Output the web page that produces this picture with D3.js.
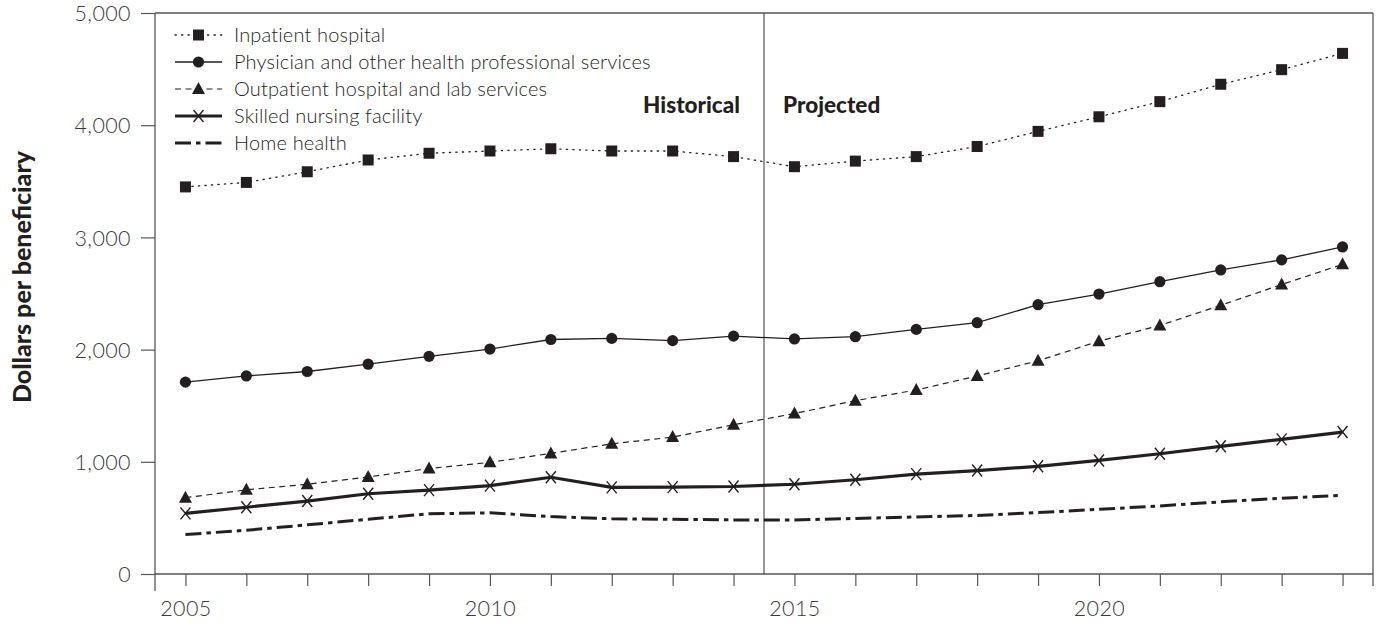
<!DOCTYPE html>
<html>
<head>
<meta charset="utf-8">
<script src="https://cdn.jsdelivr.net/npm/d3@7"></script>
<style>
  body { margin: 0; background: #fff; }
  svg { display: block; }
  text { font-family: "Lato", "Open Sans", sans-serif; fill: #231f20; }
  .tick text { font-weight: 300; font-size: 21.5px; fill: #3a3a3a; letter-spacing: 0.4px; }
  .legend text { font-weight: 300; font-size: 20px; letter-spacing: 0.15px; }
  .period { font-weight: 900; font-size: 22.5px; }
  .ytitle { font-weight: 900; font-size: 25px; }
</style>
</head>
<body>
<svg id="chart" width="1382" height="626"></svg>
<script>
// years shown on the x axis
var years = [2005, 2006, 2007, 2008, 2009, 2010, 2011, 2012, 2013, 2014,
             2015, 2016, 2017, 2018, 2019, 2020, 2021, 2022, 2023, 2024];

// dollars per beneficiary
var inpatient = [3450, 3490, 3585, 3690, 3750, 3770, 3790, 3770, 3770, 3720,
                 3630, 3680, 3720, 3810, 3945, 4075, 4210, 4365, 4495, 4640];
var physician = [1710, 1765, 1805, 1870, 1940, 2005, 2090, 2100, 2080, 2120,
                 2095, 2115, 2180, 2240, 2400, 2495, 2605, 2710, 2800, 2915];
var outpatient = [680, 750, 800, 865, 940, 995, 1075, 1160, 1220, 1330,
                  1430, 1545, 1640, 1765, 1900, 2075, 2215, 2395, 2580, 2760];
var snf = [540, 595, 650, 715, 748, 788, 862, 772, 774, 780,
           800, 840, 890, 922, 960, 1012, 1072, 1138, 1200, 1265];
var homeHealth = [352, 390, 438, 488, 537, 545, 512, 492, 488, 482,
                  482, 495, 508, 522, 548, 576, 607, 643, 676, 702];

var yTicks = [0, 1000, 2000, 3000, 4000, 5000];
var xLabelYears = [2005, 2010, 2015, 2020];
var splitYear = 2014.5;

var seriesNames = ["Inpatient hospital",
                   "Physician and other health professional services",
                   "Outpatient hospital and lab services",
                   "Skilled nursing facility",
                   "Home health"];

var ink = "#231f20";

var series = [
    { name: seriesNames[0], values: inpatient, width: 1.3, dash: "1.3,5.2", cap: "round", marker: "square" },
    { name: seriesNames[1], values: physician, width: 1.3, dash: null, cap: "butt", marker: "circle" },
    { name: seriesNames[2], values: outpatient, width: 1.2, dash: "6,4.5", cap: "butt", marker: "triangle" },
    { name: seriesNames[3], values: snf, width: 3.2, dash: null, cap: "butt", marker: "cross" },
    { name: seriesNames[4], values: homeHealth, width: 3, dash: "16,5,4.5,5", cap: "butt", marker: null }
];

var svg = d3.select("#chart");

var MARGINS = { left: 155, right: 1373, top: 13, bottom: 574 };

var xRange = d3.scaleLinear().domain([2004.5, 2024.5]).range([MARGINS.left, MARGINS.right]);
var yRange = d3.scaleLinear().domain([0, 5000]).range([MARGINS.bottom, MARGINS.top]);

/**
 * Axes
 */
var yAxis = d3.axisLeft(yRange)
    .tickValues(yTicks)
    .tickFormat(d3.format(","))
    .tickSize(14)
    .tickPadding(10);

var xAxis = d3.axisBottom(xRange)
    .tickValues(years)
    .tickFormat(function (d) { return xLabelYears.indexOf(d) >= 0 ? d : ""; })
    .tickSize(12)
    .tickPadding(14);

var gy = svg.append("g")
    .attr("transform", "translate(" + MARGINS.left + ",0)")
    .call(yAxis);
gy.select(".domain").remove();
gy.selectAll(".tick line").attr("stroke", "#555").attr("stroke-width", 1.2);
gy.selectAll(".tick text").attr("dy", "0.36em");

var gx = svg.append("g")
    .attr("transform", "translate(0," + MARGINS.bottom + ")")
    .call(xAxis);
gx.select(".domain").remove();
gx.selectAll(".tick line").attr("stroke", "#555").attr("stroke-width", 1.2);
gx.selectAll(".tick text").attr("dy", "0.75em");

/**
 * Frame round the plot
 */
var frame = svg.append("g").attr("stroke", "#555").attr("stroke-width", 1.3).attr("fill", "none");
frame.append("line").attr("x1", MARGINS.left).attr("x2", MARGINS.left)
    .attr("y1", MARGINS.top).attr("y2", MARGINS.bottom + 17);
frame.append("line").attr("x1", MARGINS.left).attr("x2", MARGINS.right)
    .attr("y1", MARGINS.bottom).attr("y2", MARGINS.bottom);
frame.append("line").attr("x1", MARGINS.left).attr("x2", MARGINS.right)
    .attr("y1", MARGINS.top).attr("y2", MARGINS.top);
frame.append("line").attr("x1", MARGINS.right).attr("x2", MARGINS.right)
    .attr("y1", MARGINS.top).attr("y2", MARGINS.bottom + 12);

// historical / projected divider
svg.append("line")
    .attr("x1", xRange(splitYear)).attr("x2", xRange(splitYear))
    .attr("y1", MARGINS.top).attr("y2", MARGINS.bottom)
    .attr("stroke", "#444").attr("stroke-width", 1.1);

svg.append("text").attr("class", "period")
    .attr("x", xRange(splitYear) - 24).attr("y", 113)
    .attr("text-anchor", "end")
    .text("Historical");
svg.append("text").attr("class", "period")
    .attr("x", xRange(splitYear) + 19).attr("y", 113)
    .text("Projected");

// y title
svg.append("text").attr("class", "ytitle")
    .attr("text-anchor", "middle")
    .attr("transform", "translate(31,277) rotate(-90)")
    .text("Dollars per beneficiary");

/**
 * Marker painter
 */
function drawMarker(g, type, x, y) {
    if (type === "square") {
        g.append("rect").attr("x", x - 5.5).attr("y", y - 5.5)
            .attr("width", 11).attr("height", 11).attr("fill", ink);
    } else if (type === "circle") {
        g.append("circle").attr("cx", x).attr("cy", y).attr("r", 5.6).attr("fill", ink);
    } else if (type === "triangle") {
        g.append("path").attr("d", "M" + x + "," + (y - 7) + "L" + (x + 6.5) + "," + (y + 5) + "L" + (x - 6.5) + "," + (y + 5) + "Z")
            .attr("fill", ink);
    } else if (type === "cross") {
        g.append("path").attr("d", "M" + (x - 5) + "," + (y - 6) + "L" + (x + 5) + "," + (y + 6) +
            "M" + (x + 5) + "," + (y - 6) + "L" + (x - 5) + "," + (y + 6))
            .attr("stroke", ink).attr("stroke-width", 1.4).attr("fill", "none");
    }
}

var lineFunc = d3.line()
    .x(function (d, i) { return xRange(years[i]); })
    .y(function (d) { return yRange(d); });

var plot = svg.append("g");
series.forEach(function (s) {
    plot.append("path")
        .datum(s.values)
        .attr("d", lineFunc)
        .attr("fill", "none")
        .attr("stroke", ink)
        .attr("stroke-width", s.width)
        .attr("stroke-linecap", s.cap)
        .attr("stroke-dasharray", s.dash);
    if (s.marker) {
        var mg = plot.append("g");
        s.values.forEach(function (v, i) {
            drawMarker(mg, s.marker, xRange(years[i]), yRange(v));
        });
    }
});

/**
 * Legend
 */
var legend = svg.append("g").attr("class", "legend");
var legendX0 = 175, legendX1 = 222, legendY0 = 35, legendStep = 27;
series.forEach(function (s, i) {
    var y = legendY0 + i * legendStep;
    legend.append("line")
        .attr("x1", legendX0).attr("x2", legendX1)
        .attr("y1", y).attr("y2", y)
        .attr("stroke", ink)
        .attr("stroke-width", s.width)
        .attr("stroke-linecap", s.cap)
        .attr("stroke-dasharray", s.dash);
    if (s.marker) drawMarker(legend, s.marker, (legendX0 + legendX1) / 2, y);
    legend.append("text")
        .attr("x", 234).attr("y", y)
        .attr("dy", "0.35em")
        .text(s.name);
});
</script>
</body>
</html>
